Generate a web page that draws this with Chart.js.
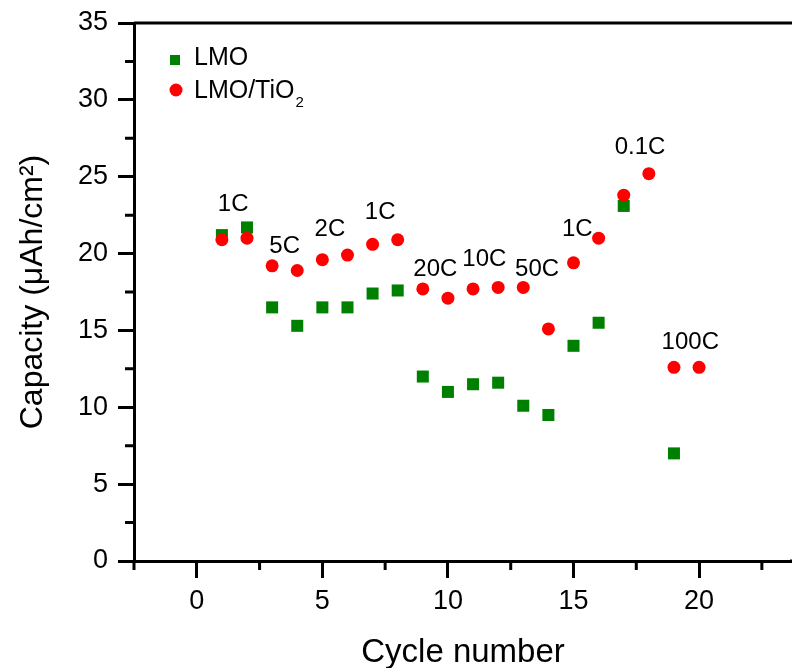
<!DOCTYPE html>
<html>
<head>
<meta charset="utf-8">
<script src="https://cdn.jsdelivr.net/npm/chart.js@4.4.1/dist/chart.umd.min.js"></script>
<style>
html, body { margin: 0; padding: 0; background: #fff; overflow: hidden; }
#wrap { width: 792px; height: 668px; }
</style>
</head>
<body>
<div id="wrap"><canvas id="chart" width="792" height="668"></canvas></div>
<script>
// values
const cycles = [1, 2, 3, 4, 5, 6, 7, 8, 9, 10, 11, 12, 13, 14, 15, 16, 17, 18, 19, 20];
const lmo = [21.2, 21.7, 16.5, 15.3, 16.5, 16.5, 17.4, 17.6, 12.0, 11.0, 11.5, 11.6, 10.1, 9.5, 14.0, 15.5, 23.1, null, 7.0, null];
const lmoTiO2 = [20.9, 21.0, 19.2, 18.9, 19.6, 19.9, 20.6, 20.9, 17.7, 17.1, 17.7, 17.8, 17.8, 15.1, 19.4, 21.0, 23.8, 25.2, 12.6, 12.6];

// C-rate annotations (data coordinates)
const rateLabels = ['1C', '5C', '2C', '1C', '20C', '10C', '50C', '1C', '0.1C', '100C'];
const rateX = [1.45, 3.5, 5.3, 7.3, 9.5, 11.45, 13.55, 15.15, 17.65, 19.65];
const rateY = [23.2, 20.5, 21.6, 22.65, 18.95, 19.6, 18.95, 21.6, 26.9, 14.25];

const xMinor = [-2.5, 2.5, 7.5, 12.5, 17.5, 22.5];
const yMinor = [2.5, 7.5, 12.5, 17.5, 22.5, 27.5, 32.5];

const FONT = "'Liberation Sans', Arial, sans-serif";
const GREEN = '#008000';
const RED = '#ff0000';

function toPoints(ys) {
    const pts = [];
    cycles.forEach((c, i) => {
        if (ys[i] !== null) pts.push({x: c, y: ys[i]});
    });
    return pts;
}

const extras = {
    id: 'extras',
    afterDraw(chart) {
        const ctx = chart.ctx;
        const area = chart.chartArea;
        const xs = chart.scales.x;
        const ys = chart.scales.y;
        ctx.save();
        ctx.strokeStyle = '#000';
        ctx.lineWidth = 3;
        // frame lines run off the right edge, as in the original crop
        ctx.beginPath();
        ctx.moveTo(area.left, area.top);
        ctx.lineTo(chart.width, area.top);
        ctx.moveTo(area.right - 2, area.bottom);
        ctx.lineTo(chart.width, area.bottom);
        ctx.stroke();
        // minor ticks
        ctx.beginPath();
        xMinor.forEach(v => {
            const px = xs.getPixelForValue(v);
            if (px > chart.width) return;
            ctx.moveTo(px, area.bottom);
            ctx.lineTo(px, area.bottom + 9);
        });
        yMinor.forEach(v => {
            const py = ys.getPixelForValue(v);
            ctx.moveTo(area.left, py);
            ctx.lineTo(area.left - 9, py);
        });
        ctx.stroke();

        // rate labels
        ctx.fillStyle = '#000';
        ctx.font = '24px ' + FONT;
        ctx.textAlign = 'center';
        ctx.textBaseline = 'middle';
        rateLabels.forEach((t, i) => {
            ctx.fillText(t, xs.getPixelForValue(rateX[i]), ys.getPixelForValue(rateY[i]));
        });

        // legend
        const lx = area.left + 41;
        const ly = area.top + 38;
        ctx.fillStyle = GREEN;
        ctx.fillRect(lx - 5, ly - 6, 10, 10);
        ctx.fillStyle = RED;
        ctx.beginPath();
        ctx.arc(lx + 1, ly + 29, 6.5, 0, Math.PI * 2);
        ctx.fill();
        ctx.fillStyle = '#000';
        ctx.textAlign = 'left';
        ctx.font = '25px ' + FONT;
        ctx.fillText('LMO', lx + 19, ly - 3);
        ctx.fillText('LMO/TiO', lx + 19, ly + 30);
        const w = ctx.measureText('LMO/TiO').width;
        ctx.font = '15px ' + FONT;
        ctx.fillText('2', lx + 20 + w, ly + 42);
        ctx.restore();
    }
};

new Chart(document.getElementById('chart').getContext('2d'), {
    type: 'scatter',
    data: {
        datasets: [
            {
                label: 'LMO',
                data: toPoints(lmo),
                pointStyle: 'rect',
                pointRadius: 8.5,
                pointHoverRadius: 8.5,
                backgroundColor: GREEN,
                borderWidth: 0,
                order: 2
            },
            {
                label: 'LMO/TiO2',
                data: toPoints(lmoTiO2),
                pointStyle: 'circle',
                pointRadius: 6.5,
                pointHoverRadius: 6.5,
                backgroundColor: RED,
                borderWidth: 0,
                order: 1
            }
        ]
    },
    options: {
        responsive: false,
        animation: false,
        layout: { autoPadding: false, padding: { top: 23, left: 0, right: 0, bottom: 0 } },
        plugins: {
            legend: { display: false },
            tooltip: { enabled: false }
        },
        scales: {
            x: {
                type: 'linear',
                min: -2.5,
                max: 23.7,
                afterFit: s => { s.height = 107; s.paddingLeft = 0; s.paddingRight = 0; },
                border: { display: true, color: '#000', width: 3 },
                grid: { drawOnChartArea: false, drawTicks: true, tickLength: 17, tickWidth: 3, tickColor: '#000' },
                ticks: {
                    stepSize: 5,
                    includeBounds: false,
                    color: '#000',
                    padding: 7,
                    font: { family: FONT, size: 27 }
                },
                title: {
                    display: true,
                    text: 'Cycle number',
                    color: '#000',
                    padding: { top: 0, bottom: -5 },
                    font: { family: FONT, size: 33 }
                }
            },
            y: {
                type: 'linear',
                min: 0,
                max: 35,
                afterFit: s => { s.width = 134; s.paddingTop = 0; s.paddingBottom = 0; },
                border: { display: true, color: '#000', width: 3 },
                grid: { drawOnChartArea: false, drawTicks: true, tickLength: 16, tickWidth: 3, tickColor: '#000' },
                ticks: {
                    stepSize: 5,
                    color: '#000',
                    padding: 10,
                    font: { family: FONT, size: 27 }
                },
                title: {
                    display: true,
                    text: 'Capacity (μAh/cm²)',
                    color: '#000',
                    padding: { top: 14, bottom: 0 },
                    font: { family: FONT, size: 32 }
                }
            }
        }
    },
    plugins: [extras]
});
</script>
</body>
</html>
